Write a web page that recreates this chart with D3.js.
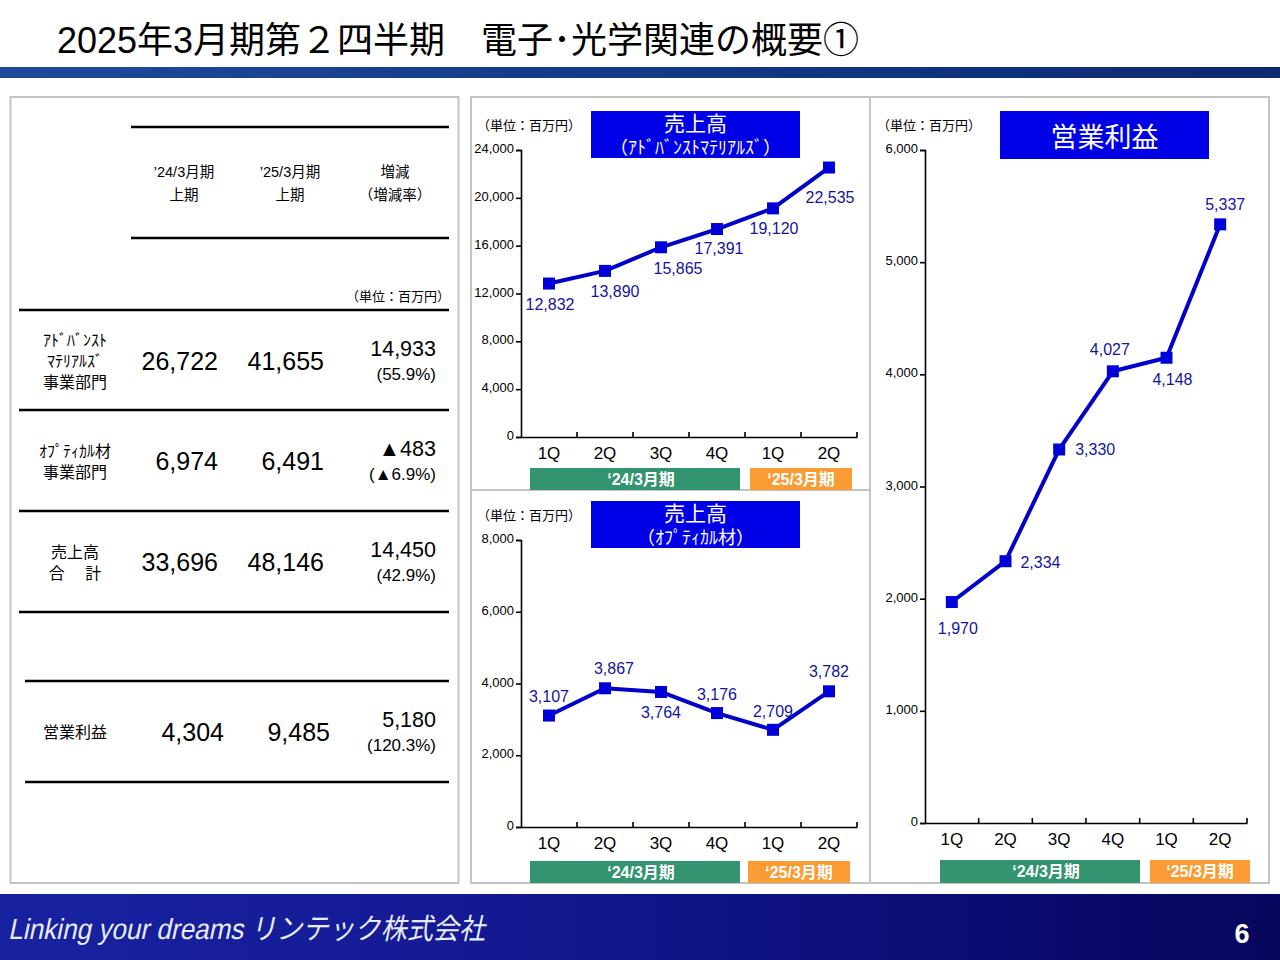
<!DOCTYPE html>
<html>
<head>
<meta charset="utf-8">
<script src="https://cdn.jsdelivr.net/npm/d3@7"></script>
<style>
html, body { margin: 0; padding: 0; background: #fff; }
svg { display: block; }
text { font-family: "Liberation Sans", "Noto Sans CJK JP", sans-serif; }
</style>
</head>
<body>
<div id="chart"></div>
<script>
// quarters + fiscal periods
const quarters = ["1Q", "2Q", "3Q", "4Q", "1Q", "2Q"];
const period24 = "‘24/3月期";
const period25 = "‘25/3月期";

// sales and operating income, million yen
const advancedSales = [12832, 13890, 15865, 17391, 19120, 22535];
const opticalSales = [3107, 3867, 3764, 3176, 2709, 3782];
const operatingIncome = [1970, 2334, 3330, 4027, 4148, 5337];

const advancedTicks = [0, 4000, 8000, 12000, 16000, 20000, 24000];
const opticalTicks = [0, 2000, 4000, 6000, 8000];
const incomeTicks = [0, 1000, 2000, 3000, 4000, 5000, 6000];

// table
const rowNames = [
    ["ｱﾄﾞﾊﾞﾝｽﾄ", "ﾏﾃﾘｱﾙｽﾞ", "事業部門"],
    ["ｵﾌﾟﾃｨｶﾙ材", "事業部門"],
    ["売上高", "合　 計"],
    ["営業利益"]
];
const prevHalf = ["26,722", "6,974", "33,696", "4,304"];
const thisHalf = ["41,655", "6,491", "48,146", "9,485"];
const change = ["14,933", "▲483", "14,450", "5,180"];
const changeRate = ["(55.9%)", "(▲6.9%)", "(42.9%)", "(120.3%)"];

const width = 1280, height = 960;
const unitLabel = "（単位：百万円）";
const blue = "#0000d8", labelBlue = "#1414a0";

const svg = d3.select("#chart").append("svg")
    .attr("width", width).attr("height", height)
    .attr("viewBox", [0, 0, width, height]);

const defs = svg.append("defs");
function gradient(id, stops) {
    const g = defs.append("linearGradient").attr("id", id);
    stops.forEach(s => g.append("stop").attr("offset", s[0]).attr("stop-color", s[1]));
}
gradient("headBar", [[0, "#1f4a9c"], [0.5, "#123a86"], [1, "#0c2a70"]]);
gradient("footBar", [[0, "#1822a0"], [0.35, "#141a94"], [0.7, "#0c0e78"], [1, "#06065c"]]);

function put(x, y, str, size, opts = {}) {
    return svg.append("text")
        .attr("x", x).attr("y", y)
        .attr("font-size", size)
        .attr("text-anchor", opts.anchor || "middle")
        .attr("font-weight", opts.weight || "normal")
        .attr("fill", opts.fill || "#000")
        .text(str);
}
function box(x, y, w, h, fill, stroke) {
    return svg.append("rect")
        .attr("x", x).attr("y", y).attr("width", w).attr("height", h)
        .attr("fill", fill).attr("stroke", stroke || "none").attr("stroke-width", stroke ? 2 : 0);
}
function rule(x1, x2, y) {
    svg.append("line").attr("x1", x1).attr("x2", x2).attr("y1", y).attr("y2", y)
        .attr("stroke", "#000").attr("stroke-width", 2.4);
}

// header + footer
put(57, 53, "2025年3月期第２四半期　電子･光学関連の概要①", 36, {anchor: "start"});
box(0, 67, width, 11, "url(#headBar)");
box(0, 894, width, 66, "url(#footBar)");
svg.append("text")
    .attr("transform", "translate(8,939) skewX(-12) scale(0.9,1)")
    .attr("font-size", 29).attr("fill", "#e8ecfa")
    .text("Linking your dreams  リンテック株式会社");
put(1242, 943, "6", 27, {weight: "bold", fill: "#fff"});

// panel frames
box(10.5, 97, 448, 786, "#fff", "#c4c4c4");
box(471, 97, 399, 393, "#fff", "#c4c4c4");
box(471, 490, 399, 393, "#fff", "#c4c4c4");
box(870, 97, 399, 786, "#fff", "#c4c4c4");

// table
rule(131, 449, 127);
rule(131, 449, 238);
[[184, "’24/3月期", "上期"], [290, "’25/3月期", "上期"], [395, "増減", "（増減率）"]].forEach(h => {
    put(h[0], 177, h[1], 14.5);
    put(h[0], 200, h[2], 14.5);
});
put(450, 301, unitLabel, 13, {anchor: "end"});

[310, 410, 511, 612].forEach(y => rule(19, 449, y));
rule(25, 449, 681);
rule(25, 449, 782);

const rowCenters = [361, 461, 562, 732];
const nameX = [75, 75, 75, 75];
rowNames.forEach((lines, i) => {
    const top = rowCenters[i] - (lines.length - 1) * 10.5 + 6;
    lines.forEach((s, j) => put(nameX[i], top + j * 21, s, 16));
});
rowCenters.forEach((cy, i) => {
    const shift = i === 3 ? 12 : 0;
    put(218 + shift - (i === 3 ? 6 : 0), cy + 9, prevHalf[i], 25, {anchor: "end"});
    put(324 + shift - (i === 3 ? 6 : 0), cy + 9, thisHalf[i], 25, {anchor: "end"});
    put(436, cy - 5, change[i], 21.5, {anchor: "end"});
    put(436, cy + 19, changeRate[i], 17, {anchor: "end"});
});

// line panel, one per series
function linePanel(cfg) {
    const x = d3.scaleBand().domain(d3.range(quarters.length)).range([cfg.x0, cfg.x1]);
    const y = d3.scaleLinear().domain([0, d3.max(cfg.ticks)]).range([cfg.y0, cfg.y1]);
    const g = svg.append("g");

    const yAxis = d3.axisLeft(y).tickValues(cfg.ticks).tickSize(5).tickPadding(2)
        .tickFormat(d3.format(","));
    const xAxis = d3.axisBottom(x).tickSize(0).tickPadding(0).tickFormat(() => "");

    const ya = g.append("g").attr("transform", `translate(${cfg.x0},0)`).call(yAxis);
    const xa = g.append("g").attr("transform", `translate(0,${cfg.y0})`).call(xAxis);
    [ya, xa].forEach(a => {
        a.selectAll("path,line").attr("stroke", "#000").attr("stroke-width", 1.6);
    });
    ya.selectAll("text").attr("font-size", 13).attr("font-family", "Liberation Sans").attr("fill", "#000")
        .attr("dy", "0.2em");

    // upward ticks between the quarters
    g.selectAll(".qtick").data(d3.range(1, quarters.length + 1)).join("line")
        .attr("x1", i => cfg.x0 + x.step() * i).attr("x2", i => cfg.x0 + x.step() * i)
        .attr("y1", cfg.y0).attr("y2", cfg.y0 - 5)
        .attr("stroke", "#000").attr("stroke-width", 1.6);

    g.selectAll(".qlabel").data(quarters).join("text")
        .attr("x", (d, i) => x(i) + x.bandwidth() / 2)
        .attr("y", cfg.y0 + 22)
        .attr("text-anchor", "middle").attr("font-size", 17)
        .text(d => d);

    const line = d3.line().x((d, i) => x(i) + x.bandwidth() / 2).y(d => y(d));
    g.append("path").datum(cfg.values)
        .attr("d", line).attr("fill", "none")
        .attr("stroke", "#0000c8").attr("stroke-width", 4).attr("stroke-linejoin", "round");

    g.selectAll(".marker").data(cfg.values).join("rect")
        .attr("x", (d, i) => x(i) + x.bandwidth() / 2 - 6)
        .attr("y", d => y(d) - 6)
        .attr("width", 12).attr("height", 12)
        .attr("fill", blue);

    g.selectAll(".value").data(cfg.values).join("text")
        .attr("x", (d, i) => x(i) + x.bandwidth() / 2 + cfg.labelShift[i][0])
        .attr("y", (d, i) => y(d) + cfg.labelShift[i][1])
        .attr("text-anchor", "middle").attr("font-size", 16).attr("fill", labelBlue)
        .text(d => d3.format(",")(d));

    // fiscal period strips
    const st = cfg.stripTop, sh = cfg.stripH;
    g.append("rect").attr("x", cfg.s24[0]).attr("y", st).attr("width", cfg.s24[1]).attr("height", sh).attr("fill", "#339470");
    g.append("rect").attr("x", cfg.s25[0]).attr("y", st).attr("width", cfg.s25[1]).attr("height", sh).attr("fill", "#fb9b33");
    g.append("text").attr("x", cfg.s24[0] + cfg.s24[1] / 2 + 6).attr("y", st + 17)
        .attr("text-anchor", "middle").attr("font-size", 16).attr("font-weight", "bold").attr("fill", "#fff").text(period24);
    g.append("text").attr("x", cfg.s25[0] + cfg.s25[1] / 2 + 0).attr("y", st + 17)
        .attr("text-anchor", "middle").attr("font-size", 16).attr("font-weight", "bold").attr("fill", "#fff").text(period25);

    // title box
    g.append("rect").attr("x", cfg.title[0]).attr("y", cfg.title[1]).attr("width", cfg.title[2]).attr("height", cfg.title[3]).attr("fill", "#0000e6");
    cfg.titleLines.forEach(t => {
        g.append("text").attr("x", cfg.title[0] + cfg.title[2] / 2).attr("y", t[1])
            .attr("text-anchor", "middle").attr("font-size", t[2]).attr("fill", "#fff").text(t[0]);
    });
    g.append("text").attr("x", cfg.unitX).attr("y", cfg.unitY)
        .attr("text-anchor", "start").attr("font-size", 13).text(unitLabel);
}

linePanel({
    values: advancedSales, ticks: advancedTicks,
    x0: 521, x1: 857, y0: 437, y1: 150,
    labelShift: [[1, 26], [10, 26], [17, 27], [2, 25], [1, 26], [1, 35]],
    s24: [530, 210], s25: [750, 102], stripTop: 468, stripH: 22,
    title: [591, 111, 209, 47],
    titleLines: [["売上高", 131, 21], ["（ｱﾄﾞﾊﾞﾝｽﾄﾏﾃﾘｱﾙｽﾞ）", 154, 18]],
    unitX: 477, unitY: 130
});
linePanel({
    values: opticalSales, ticks: opticalTicks,
    x0: 521, x1: 857, y0: 827, y1: 540,
    labelShift: [[0, -14], [9, -14], [0, 26], [0, -13], [0, -13], [0, -14]],
    s24: [530, 210], s25: [748, 102], stripTop: 861, stripH: 22,
    title: [591, 501, 209, 47],
    titleLines: [["売上高", 521, 21], ["（ｵﾌﾟﾃｨｶﾙ材）", 544, 18]],
    unitX: 477, unitY: 520
});
linePanel({
    values: operatingIncome, ticks: incomeTicks,
    x0: 925, x1: 1247, y0: 823, y1: 150,
    labelShift: [[6, 32], [35, 7], [36, 6], [-3, -16], [6, 27], [5, -14]],
    s24: [940, 200], s25: [1150, 100], stripTop: 860, stripH: 23,
    title: [1000, 111, 209, 48],
    titleLines: [["営業利益", 147, 27]],
    unitX: 877, unitY: 130
});
</script>
</body>
</html>
